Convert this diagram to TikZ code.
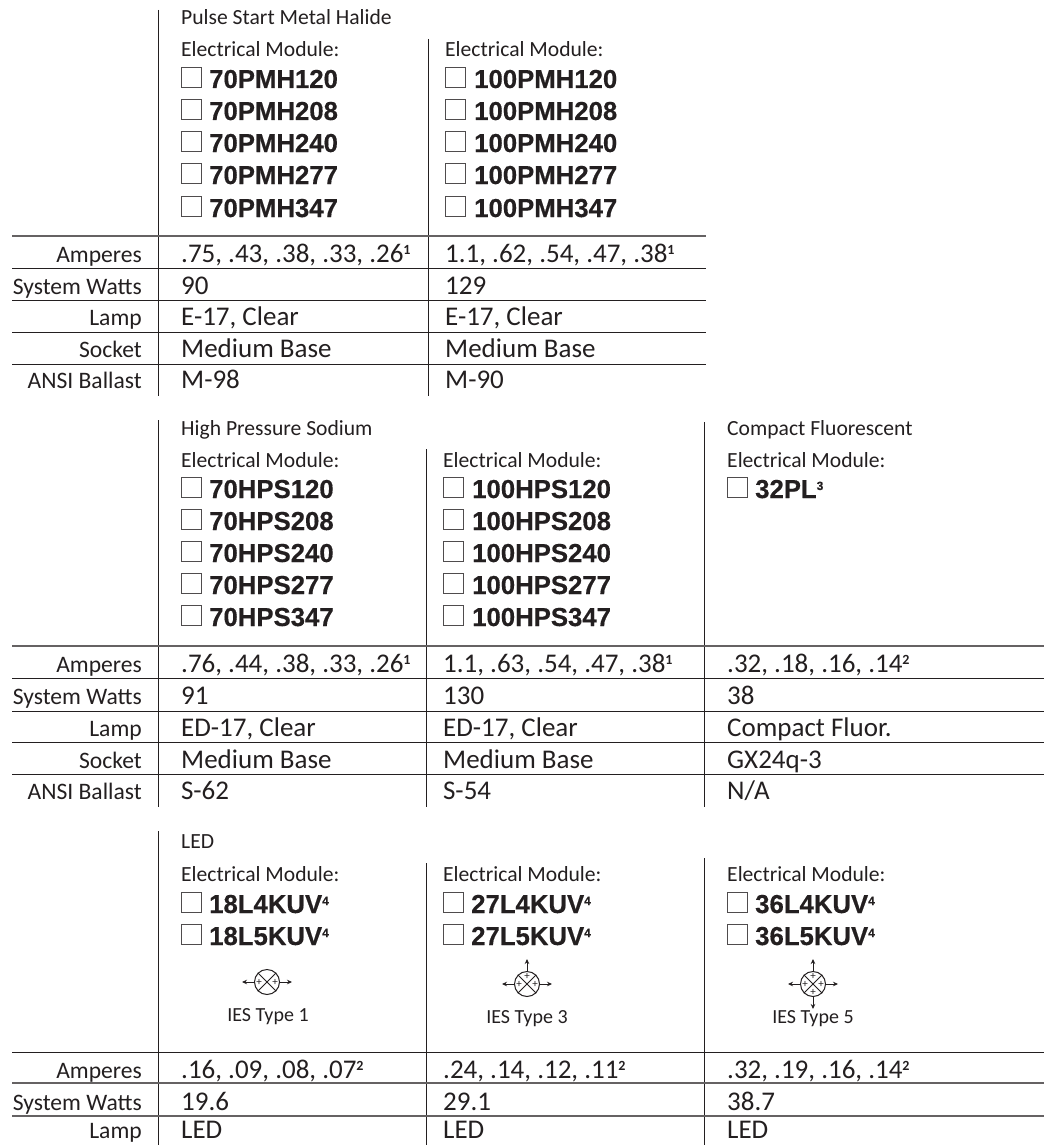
\documentclass[tikz,border=0pt]{standalone}
\usepackage{fontspec}
\setmainfont{Carlito}
\newfontfamily\boldface[FakeStretch=0.99,FakeBold=0.4]{Liberation Sans Bold}
\usetikzlibrary{arrows.meta}

\definecolor{inkblack}{HTML}{231F20}
\tikzset{
  rowlabel/.style={anchor=base east,inner sep=0pt,text=inkblack,font=\fontsize{23.6}{25}\selectfont},
  cell/.style={anchor=base west,inner sep=0pt,text=inkblack,font=\fontsize{27}{29}\selectfont},
  head/.style={anchor=base west,inner sep=0pt,text=inkblack,font=\fontsize{21.6}{23}\selectfont},
  module/.style={anchor=base west,inner sep=0pt,text=inkblack,font=\boldface\fontsize{26}{28}\selectfont},
  tick/.style={draw=inkblack!80,line width=0.9pt,minimum width=20pt,minimum height=20pt,inner sep=0pt,anchor=south west},
  thickrule/.style={draw=inkblack!70,line width=1.5pt},
  thinrule/.style={draw=inkblack,line width=0.9pt},
  colrule/.style={draw=inkblack,line width=0.8pt},
  lampcircle/.style={circle,draw=inkblack,line width=1pt,minimum size=25pt,inner sep=0pt},
  plus/.style={inner sep=0pt,text=inkblack,font=\fontsize{11}{11}\selectfont},
  beam/.style={draw=inkblack,line width=0.8pt,-{Stealth[length=5pt,width=4.5pt]}}
}
\newcommand{\sups}[1]{\raisebox{8pt}{\fontsize{14}{14}\selectfont\textbf{#1}}}
\newcommand{\bsup}[1]{\raisebox{8pt}{\fontsize{12}{12}\selectfont #1}}
\newcommand{\notapp}{N/A}

\begin{document}
\begin{tikzpicture}[x=1pt,y=-1pt]
\useasboundingbox (0,0) rectangle (1044,1145);

%
%FIRST TABLE
%

%column lines
\draw[colrule] (158,10) -- (158,396);
\draw[colrule] (428,39) -- (428,396);

%row lines
\draw[thickrule] (12,236) -- (706,236);
\foreach \yy in {268,300,332,364} \draw[thinrule] (12,\yy) -- (706,\yy);

\node[head] (pmhhead) at (181,25) {Pulse Start Metal Halide};
\foreach \c/\xx in {a/181,b/445} \node[head] (pmhem\c) at (\xx,57) {Electrical Module:};

%modules
\foreach \n/\yy/\volt in {1/88/120,2/120/208,3/152/240,4/184/277,5/217/347} {
  \node[tick] (pmhboxa\n) at (181,\yy) {};
  \node[module] (pmha\n) at (209,\yy) {70PMH\volt};
  \node[tick] (pmhboxb\n) at (445,\yy) {};
  \node[module] (pmhb\n) at (474,\yy) {100PMH\volt};
}

%data rows
\foreach \n/\yy/\lab/\vala/\valb in {
  1/262/Amperes/{.75, .43, .38, .33, .26\sups{1}}/{1.1, .62, .54, .47, .38\sups{1}},
  2/294/System Watts/90/129,
  3/325/Lamp/{E-17, Clear}/{E-17, Clear},
  4/357/Socket/Medium Base/Medium Base,
  5/388/ANSI Ballast/M-98/M-90} {
  \node[rowlabel] (pmhlab\n) at (142,\yy) {\lab};
  \node[cell] (pmhvala\n) at (181,\yy) {\vala};
  \node[cell] (pmhvalb\n) at (445,\yy) {\valb};
}

%
%SECOND TABLE
%

\draw[colrule] (158,420) -- (158,807);
\draw[colrule] (426,449) -- (426,807);
\draw[colrule] (704,422) -- (704,807);

\draw[thickrule] (12,646) -- (1044,646);
\foreach \yy in {678,711,742,774} \draw[thinrule] (12,\yy) -- (1044,\yy);

\node[head] (hpshead) at (181,435) {High Pressure Sodium};
\node[head] (cflhead) at (727,435) {Compact Fluorescent};
\foreach \c/\xx in {a/181,b/443,c/727} \node[head] (hpsem\c) at (\xx,467) {Electrical Module:};

\foreach \n/\yy/\volt in {1/498/120,2/530/208,3/562/240,4/594/277,5/626/347} {
  \node[tick] (hpsboxa\n) at (181,\yy) {};
  \node[module] (hpsa\n) at (209,\yy) {70HPS\volt};
  \node[tick] (hpsboxb\n) at (443,\yy) {};
  \node[module] (hpsb\n) at (472,\yy) {100HPS\volt};
}
\node[tick] (cflbox) at (727,498) {};
\node[module] (cfl) at (755,498) {32PL\bsup{3}};

\foreach \n/\yy/\lab/\vala/\valb/\valc in {
  1/672/Amperes/{.76, .44, .38, .33, .26\sups{1}}/{1.1, .63, .54, .47, .38\sups{1}}/{.32, .18, .16, .14\sups{2}},
  2/704/System Watts/91/130/38,
  3/736/Lamp/{ED-17, Clear}/{ED-17, Clear}/Compact Fluor.,
  4/768/Socket/Medium Base/Medium Base/GX24q-3,
  5/799/ANSI Ballast/S-62/S-54/\notapp} {
  \node[rowlabel] (hpslab\n) at (142,\yy) {\lab};
  \node[cell] (hpsvala\n) at (181,\yy) {\vala};
  \node[cell] (hpsvalb\n) at (443,\yy) {\valb};
  \node[cell] (hpsvalc\n) at (727,\yy) {\valc};
}

%
%THIRD TABLE
%

\draw[colrule] (158,831) -- (158,1145);
\draw[colrule] (426,863) -- (426,1145);
\draw[colrule] (704,858) -- (704,1145);

\draw[thinrule] (12,1052) -- (1044,1052);
\foreach \yy in {1083,1116} \draw[thickrule] (12,\yy) -- (1044,\yy);

\node[head] (ledhead) at (181,848) {LED};
\foreach \c/\xx/\watt/\boxx/\txx in {a/181/18/181/209,b/443/27/443/471,c/727/36/727/755} {
  \node[head] (ledem\c) at (\xx,881) {Electrical Module:};
  \node[tick] (ledbox\c1) at (\boxx,913) {};
  \node[module] (led\c1) at (\txx,913) {\watt L4KUV\bsup{4}};
  \node[tick] (ledbox\c2) at (\boxx,945) {};
  \node[module] (led\c2) at (\txx,945) {\watt L5KUV\bsup{4}};
}

%light distribution symbols
\foreach \c/\xx/\yy/\txtx/\txty/\num in {a/267/982/268/1021/1,b/527/984/527/1023/3,c/813/984/813/1023/5} {
  \node[lampcircle] (lamp\c) at (\xx,\yy) {};
  \draw[line width=1pt,draw=inkblack] (lamp\c.45) -- (lamp\c.225) (lamp\c.135) -- (lamp\c.315);
  \node[plus] (plus\c l) at (\xx-8,\yy) {+};
  \node[plus] (plus\c r) at (\xx+8,\yy) {+};
  \coordinate (beam\c l) at (\xx-25,\yy);
  \coordinate (beam\c r) at (\xx+25,\yy);
  \draw[beam] (lamp\c.west) -- (beam\c l);
  \draw[beam] (lamp\c.east) -- (beam\c r);
  \node[head,anchor=base,font=\fontsize{20}{22}\selectfont] (ies\c) at (\txtx,\txty) {IES Type \num};
}
\foreach \c/\xx in {b/527,c/813} {
  \node[plus] (plus\c t) at (\xx,984-8) {+};
  \coordinate (beam\c t) at (\xx,959);
  \draw[beam] (lamp\c.north) -- (beam\c t);
}
\node[plus] (pluscb) at (813,984+8) {+};
\coordinate (beamcb) at (813,1009);
\draw[beam] (lampc.south) -- (beamcb);

\foreach \n/\yy/\lab/\vala/\valb/\valc in {
  1/1078/Amperes/{.16, .09, .08, .07\sups{2}}/{.24, .14, .12, .11\sups{2}}/{.32, .19, .16, .14\sups{2}},
  2/1110/System Watts/19.6/29.1/38.7,
  3/1138/Lamp/LED/LED/LED} {
  \node[rowlabel] (ledlab\n) at (142,\yy) {\lab};
  \node[cell] (ledvala\n) at (181,\yy) {\vala};
  \node[cell] (ledvalb\n) at (443,\yy) {\valb};
  \node[cell] (ledvalc\n) at (727,\yy) {\valc};
}

\end{tikzpicture}
\end{document}
